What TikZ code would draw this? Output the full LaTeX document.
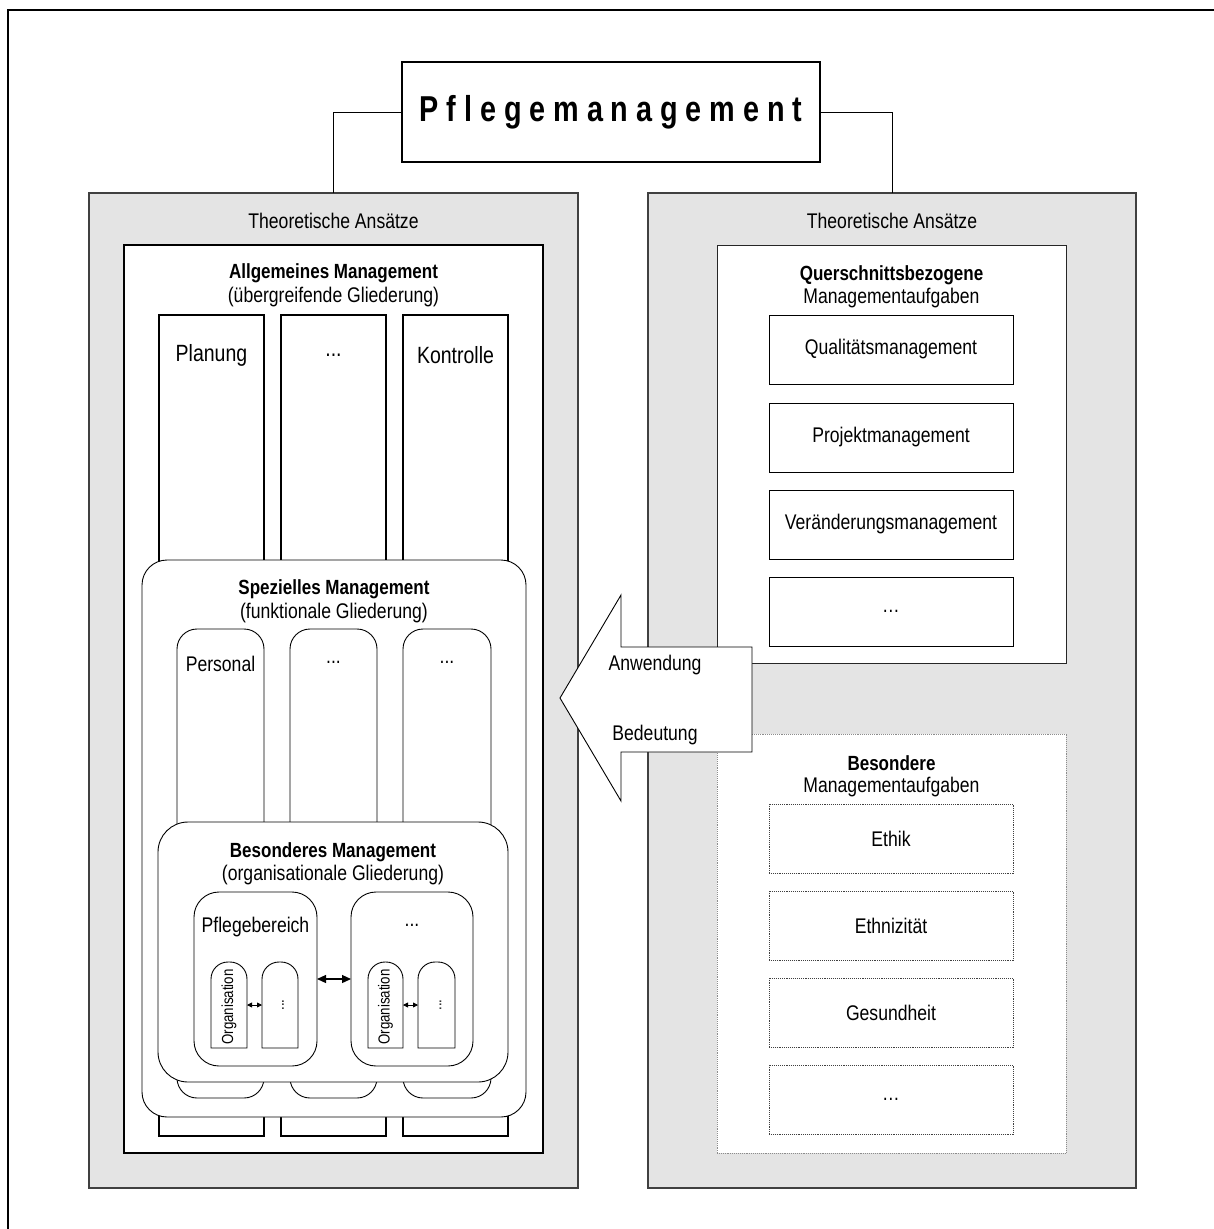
\documentclass[tikz,border=0pt]{standalone}
\usepackage{fontspec}
\setmainfont{Liberation Sans}[FakeStretch=0.83]
\newfontfamily\titlefont{Liberation Sans}[FakeStretch=0.8, LetterSpace=22]
\usetikzlibrary{calc,arrows.meta}
\definecolor{panelgray}{RGB}{228,228,228}
\definecolor{dotgray}{RGB}{140,140,140}
\begin{document}
\begin{tikzpicture}[x=1pt,y=-1pt,
  box/.style={anchor=north west, inner sep=0pt, outer sep=0pt},
  panel/.style={box, draw=black!75, line width=1.3pt, fill=panelgray},
  whitebox/.style={box, draw=black, fill=white},
  dotbox/.style={box, draw=dotgray, fill=white, densely dotted, line width=0.9pt},
  txt/.style={inner sep=0pt, font=\fontsize{21.2}{25}\selectfont},
  bigtxt/.style={inner sep=0pt, font=\fontsize{23.5}{27}\selectfont},
  headtxt/.style={inner sep=0pt, font=\fontsize{20.5}{24}\selectfont\bfseries},
  smalltxt/.style={inner sep=0pt, font=\fontsize{16}{19}\selectfont},
  link/.style={draw=black, line width=0.8pt},
  twoway/.style={{Triangle[length=9pt,width=8pt]}-{Triangle[length=9pt,width=8pt]}, line width=1.2pt},
  twowaysmall/.style={{Triangle[length=5pt,width=5pt]}-{Triangle[length=5pt,width=5pt]}, line width=0.8pt}
]
\useasboundingbox (0,0) rectangle (1214,1229);

% outer frame
\draw[line width=1.2pt] (8,1229) -- (8,10) -- (1214,10);

% title
\node[draw=black, line width=1.5pt, fill=white, minimum width=418pt, minimum height=100pt, inner sep=0pt,
      font=\titlefont\fontsize{36}{40}\selectfont\bfseries] (title) at (611,112) {Pflegemanagement};

% the two grey panels
\node[panel, minimum width=489pt, minimum height=995pt] (lp) at (89,193) {};
\node[panel, minimum width=488pt, minimum height=995pt] (rp) at (648,193) {};
\draw[link] (title.west) -| (lp.north);
\draw[link] (title.east) -| (rp.north);
\node[txt] (lph) at ($(lp.north)+(0,28)$) {Theoretische Ansätze};
\node[txt] (rph) at ($(rp.north)+(0,28)$) {Theoretische Ansätze};

% ---------- left: Allgemeines Management ----------
\node[whitebox, line width=1.8pt, minimum width=419pt, minimum height=908pt] (ag) at (124,245) {};
\node[headtxt] (agt) at ($(ag.north)+(0,28)$) {Allgemeines Management};
\node[txt] (ags) at ($(ag.north)+(0,52)$) {(übergreifende Gliederung)};

\node[whitebox, line width=1.5pt, minimum width=105pt, minimum height=821pt] (c1) at (159,315) {};
\node[whitebox, line width=1.5pt, minimum width=105pt, minimum height=821pt] (c2) at (281,315) {};
\node[whitebox, line width=1.5pt, minimum width=105pt, minimum height=821pt] (c3) at (403,315) {};
\node[bigtxt] (c1t) at ($(c1.north)+(0,40)$) {Planung};
\node[bigtxt] (c2t) at ($(c2.north)+(0,40)$) {...};
\node[bigtxt] (c3t) at ($(c3.north)+(0,40)$) {Kontrolle};

% Spezielles Management
\node[whitebox, line width=0.9pt, rounded corners=25pt, minimum width=384pt, minimum height=557pt] (sp) at (142,560) {};
\node[headtxt] (spt) at ($(sp.north)+(0,29)$) {Spezielles Management};
\node[txt] (sps) at ($(sp.north)+(0,53)$) {(funktionale Gliederung)};

\node[whitebox, line width=0.9pt, rounded corners=20pt, minimum width=87pt, minimum height=469pt] (s1) at (177,629) {};
\node[whitebox, line width=0.9pt, rounded corners=20pt, minimum width=87pt, minimum height=469pt] (s2) at (290,629) {};
\node[whitebox, line width=0.9pt, rounded corners=20pt, minimum width=88pt, minimum height=469pt] (s3) at (403,629) {};
\node[txt] (s1t) at ($(s1.north)+(0,35)$) {Personal};
\node[txt] (s2t) at ($(s2.north)+(0,33)$) {...};
\node[txt] (s3t) at ($(s3.north)+(0,33)$) {...};

% Besonderes Management
\node[whitebox, line width=0.9pt, rounded corners=30pt, minimum width=350pt, minimum height=260pt] (bm) at (158,822) {};
\node[headtxt] (bmt) at ($(bm.north)+(0,30)$) {Besonderes Management};
\node[txt] (bms) at ($(bm.north)+(0,53)$) {(organisationale Gliederung)};

\node[whitebox, line width=0.9pt, rounded corners=25pt, minimum width=123pt, minimum height=174pt] (pb) at (194,892) {};
\node[whitebox, line width=0.9pt, rounded corners=25pt, minimum width=122pt, minimum height=174pt] (pd) at (351,892) {};
\node[txt] (pbt) at ($(pb.north)+(0,35)$) {Pflegebereich};
\node[txt] (pdt) at ($(pd.north)+(0,33)$) {...};
\draw[twoway] (pb.east) -- (pd.west);

% organisation units (rounded tops)
\foreach \n/\x/\w in {oa/211/36, ob/262/36, oc/368/35, od/418/37}{
  \node[box, minimum width=\w pt, minimum height=86pt] (\n) at (\x,962) {};
  \draw[line width=0.9pt, fill=white] (\n.south west) [rounded corners=17pt] -- (\n.north west) -- (\n.north east) [sharp corners] -- (\n.south east) -- cycle;
}
\node[smalltxt, rotate=90] (oat) at ($(oa.center)+(0,2)$) {Organisation};
\node[smalltxt, rotate=90] (oct) at ($(oc.center)+(0,2)$) {Organisation};
\node[smalltxt, rotate=90] (obt) at ($(ob.center)+(3,0)$) {...};
\node[smalltxt, rotate=90] (odt) at ($(od.center)+(4,0)$) {...};
\draw[twowaysmall] (oa.east) -- (ob.west);
\draw[twowaysmall] (oc.east) -- (od.west);

% ---------- right: cross-sectional tasks ----------
\node[whitebox, draw=black!85, line width=1pt, minimum width=349pt, minimum height=418pt] (qb) at (717,245) {};
\node[headtxt] (qbt) at ($(qb.north)+(0,30)$) {Querschnittsbezogene};
\node[txt] (qbs) at ($(qb.north)+(0,53)$) {Managementaufgaben};
\foreach \n/\y/\t in {q1/315/Qualitätsmanagement, q2/403/Projektmanagement, q3/490/Veränderungsmanagement, q4/577/{\dots}}{
  \node[whitebox, line width=1pt, minimum width=244pt, minimum height=69pt] (\n) at (769,\y) {};
  \node[txt] at (\n.center) {\t};
}

% ---------- right: special tasks ----------
\node[dotbox, minimum width=349pt, minimum height=419pt] (bb) at (717,734) {};
\node[headtxt] (bbt) at ($(bb.north)+(0,29)$) {Besondere};
\node[txt] (bbs) at ($(bb.north)+(0,53)$) {Managementaufgaben};
\foreach \n/\y/\t in {e1/804/Ethik, e2/891/Ethnizität, e3/978/Gesundheit, e4/1065/{\dots}}{
  \node[dotbox, draw=black!75, minimum width=244pt, minimum height=69pt] (\n) at (769,\y) {};
  \node[txt] at (\n.center) {\t};
}

% ---------- block arrow ----------
\coordinate (tip) at (560,698);
\draw[fill=white, line width=0.9pt] (tip) -- (621,595) -- (621,647) -- (752,647) -- (752,752) -- (621,752) -- (621,801) -- cycle;
\node[txt] (anw) at (655,665) {Anwendung};
\node[txt] (bed) at (655,735) {Bedeutung};
\end{tikzpicture}
\end{document}
